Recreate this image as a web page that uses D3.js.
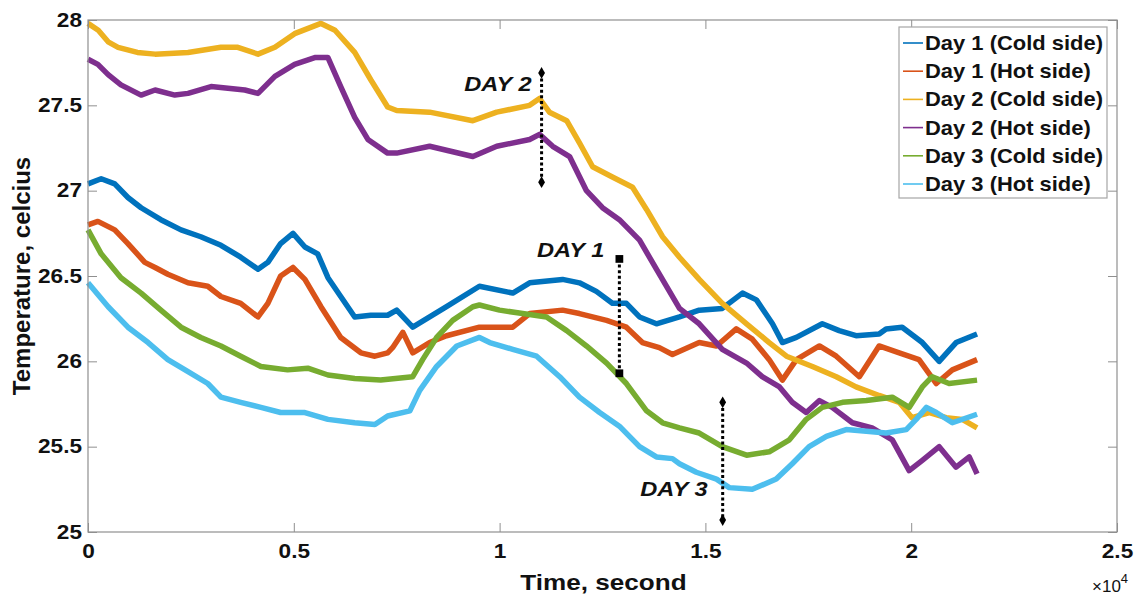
<!DOCTYPE html>
<html>
<head>
<meta charset="utf-8">
<script src="https://cdn.jsdelivr.net/npm/d3@7/dist/d3.min.js"></script>
<style>
  html, body { margin: 0; padding: 0; background: #fff; }
  svg { display: block; font-family: 'Liberation Sans', Arial, sans-serif; }
</style>
</head>
<body>
<div id="chart"></div>
<script>
// series: [time (s), temperature (C)]
const day1Cold = [[0,27.04],[320,27.07],[650,27.04],[970,26.96],[1290,26.90],[1770,26.83],[2260,26.77],[2740,26.73],[3230,26.68],[3710,26.61],[4130,26.54],[4370,26.58],[4680,26.69],[4980,26.75],[5270,26.67],[5580,26.63],[5830,26.49],[6140,26.38],[6480,26.26],[6870,26.27],[7280,26.27],[7500,26.30],[7890,26.20],[8300,26.26],[8710,26.32],[9510,26.44],[10320,26.40],[10730,26.46],[11530,26.48],[11940,26.46],[12350,26.41],[12740,26.34],[13080,26.34],[13400,26.26],[13810,26.22],[14370,26.26],[14850,26.30],[15410,26.31],[15900,26.40],[16240,26.36],[16630,26.22],[16870,26.11],[17210,26.14],[17840,26.22],[18250,26.18],[18660,26.15],[19220,26.16],[19390,26.19],[19780,26.20],[20270,26.11],[20680,26.00],[21090,26.11],[21600,26.16]]
const day1Hot = [[0,26.80],[240,26.82],[650,26.77],[970,26.69],[1380,26.58],[1630,26.55],[1940,26.51],[2430,26.46],[2910,26.44],[3230,26.38],[3710,26.34],[4130,26.26],[4370,26.34],[4680,26.50],[4980,26.55],[5270,26.48],[5660,26.32],[6140,26.14],[6630,26.05],[6970,26.03],[7280,26.05],[7400,26.08],[7650,26.17],[7890,26.05],[8300,26.11],[8710,26.15],[9510,26.20],[10320,26.20],[10730,26.28],[11530,26.30],[11940,26.28],[12600,26.24],[13080,26.20],[13470,26.11],[13880,26.08],[14200,26.04],[14850,26.11],[15270,26.09],[15750,26.19],[16140,26.13],[16550,26.01],[16870,25.89],[17210,26.01],[17770,26.09],[18180,26.03],[18740,25.91],[19220,26.09],[19710,26.05],[20190,26.01],[20610,25.87],[21000,25.95],[21600,26.01]]
const day2Cold = [[0,27.98],[250,27.94],[500,27.87],[730,27.84],[1200,27.81],[1630,27.80],[2430,27.81],[3230,27.84],[3640,27.84],[4130,27.80],[4540,27.84],[5020,27.92],[5660,27.98],[6000,27.94],[6480,27.81],[6870,27.65],[7280,27.49],[7500,27.47],[8300,27.46],[9350,27.41],[9930,27.46],[10730,27.50],[10970,27.54],[11210,27.46],[11630,27.41],[11940,27.28],[12260,27.14],[12740,27.08],[13230,27.02],[13570,26.89],[13960,26.73],[14370,26.61],[14850,26.48],[15410,26.34],[16000,26.22],[16550,26.11],[16970,26.03],[17600,25.97],[18180,25.91],[18660,25.85],[19220,25.80],[19710,25.76],[20020,25.67],[20440,25.70],[20850,25.67],[21240,25.66],[21600,25.61]]
const day2Hot = [[0,27.77],[240,27.74],[490,27.68],[800,27.62],[1290,27.56],[1630,27.59],[2110,27.56],[2430,27.57],[2990,27.61],[3400,27.60],[3810,27.59],[4130,27.57],[4540,27.67],[5020,27.74],[5510,27.78],[5830,27.78],[6140,27.61],[6480,27.43],[6800,27.30],[7280,27.22],[7500,27.22],[8300,27.26],[9350,27.20],[9930,27.26],[10730,27.30],[10970,27.33],[11290,27.26],[11700,27.20],[12110,27.00],[12500,26.90],[12910,26.83],[13400,26.71],[13810,26.54],[14370,26.31],[14850,26.22],[15410,26.07],[16000,25.99],[16380,25.91],[16800,25.85],[17110,25.76],[17450,25.70],[17770,25.77],[18080,25.73],[18570,25.64],[19050,25.61],[19540,25.54],[19950,25.36],[20270,25.42],[20680,25.50],[21090,25.38],[21410,25.44],[21600,25.34]]
const day3Cold = [[0,26.77],[320,26.63],[800,26.49],[1290,26.40],[1770,26.30],[2260,26.20],[2740,26.14],[3230,26.09],[3710,26.03],[4200,25.97],[4850,25.95],[5340,25.96],[5830,25.92],[6480,25.90],[7110,25.89],[7890,25.91],[8130,26.01],[8470,26.14],[8860,26.24],[9350,26.32],[9510,26.33],[10000,26.30],[10560,26.28],[11140,26.26],[11630,26.18],[12110,26.09],[12600,25.99],[13080,25.87],[13570,25.71],[13960,25.64],[14370,25.61],[14850,25.58],[15410,25.50],[16000,25.45],[16550,25.47],[17040,25.54],[17450,25.66],[17840,25.73],[18330,25.76],[18910,25.77],[19540,25.79],[19950,25.73],[20270,25.85],[20510,25.91],[20920,25.87],[21600,25.89]]
const day3Hot = [[0,26.46],[490,26.32],[970,26.20],[1460,26.11],[1940,26.01],[2430,25.94],[2910,25.87],[3230,25.79],[3710,25.76],[4200,25.73],[4680,25.70],[5270,25.70],[5830,25.66],[6480,25.64],[6970,25.63],[7280,25.68],[7820,25.71],[8060,25.83],[8470,25.97],[8960,26.09],[9510,26.14],[9760,26.11],[10320,26.07],[10900,26.03],[11460,25.91],[11940,25.79],[12430,25.70],[12910,25.62],[13400,25.50],[13810,25.44],[14200,25.43],[14370,25.40],[14780,25.35],[15270,25.31],[15580,25.26],[16140,25.25],[16720,25.31],[17110,25.40],[17520,25.50],[17940,25.56],[18420,25.60],[18910,25.59],[19390,25.58],[19880,25.60],[20120,25.66],[20370,25.73],[20610,25.70],[21000,25.64],[21600,25.69]]

const seriesNames = ['Day 1 (Cold side)', 'Day 1 (Hot side)', 'Day 2 (Cold side)', 'Day 2 (Hot side)', 'Day 3 (Cold side)', 'Day 3 (Hot side)']
const seriesData = [day1Cold, day1Hot, day2Cold, day2Hot, day3Cold, day3Hot]
const xTicks = [0, 5000, 10000, 15000, 20000, 25000]
const xTickLabels = ['0', '0.5', '1', '1.5', '2', '2.5']
const yTicks = [25, 25.5, 26, 26.5, 27, 27.5, 28]
const yTickLabels = ['25', '25.5', '26', '26.5', '27', '27.5', '28']

// day markers: label, time, low / high temperature of the dotted bar
const markerLabels = ['DAY 2', 'DAY 1', 'DAY 3']
const markerTimes = [11020, 12910, 15420]
const markerLow = [27.05, 25.93, 25.07]
const markerHigh = [27.69, 26.60, 25.76]

const colors = ['#0072BD', '#D95319', '#EDB120', '#7E2F8E', '#77AC30', '#4DBEEE']
const width = 1136
const height = 597
const margin = { top: 20, right: 19, bottom: 65, left: 88 }
const sx = 1.16 // the figure is stretched horizontally
const axisColor = '#8f8f8f'

const svg = d3.select('#chart')
  .append('svg')
  .attr('width', width)
  .attr('height', height)

const x = d3.scaleLinear().domain([0, 25000]).range([margin.left, width - margin.right])
const y = d3.scaleLinear().domain([25, 28]).range([height - margin.bottom, margin.top])

// lines
const line = d3.line().x(d => x(d[0])).y(d => y(d[1]))
svg.append('g')
  .selectAll('path')
  .data(seriesData)
  .join('path')
  .attr('d', line)
  .attr('fill', 'none')
  .attr('stroke', (d, i) => colors[i])
  .attr('stroke-width', 5.5)
  .attr('stroke-linejoin', 'round')

// axes
const gx = svg.append('g')
  .attr('transform', `translate(0, ${y(25)})`)
  .call(d3.axisBottom(x).tickValues(xTicks).tickFormat((d, i) => xTickLabels[i]).tickSize(-9).tickPadding(12))
const gy = svg.append('g')
  .attr('transform', `translate(${x(0)}, 0)`)
  .call(d3.axisLeft(y).tickValues(yTicks).tickFormat((d, i) => yTickLabels[i]).tickSize(-9))
svg.append('g')
  .attr('transform', `translate(0, ${y(28)})`)
  .call(d3.axisTop(x).tickValues(xTicks).tickFormat('').tickSize(-9))
svg.append('g')
  .attr('transform', `translate(${x(25000)}, 0)`)
  .call(d3.axisRight(y).tickValues(yTicks).tickFormat('').tickSize(-9))

svg.selectAll('.domain').remove()
svg.selectAll('.tick line').attr('stroke', axisColor)
svg.append('rect')
  .attr('x', x(0))
  .attr('y', y(28))
  .attr('width', x(25000) - x(0))
  .attr('height', y(25) - y(28))
  .attr('fill', 'none')
  .attr('stroke', axisColor)
  .attr('stroke-width', 1.2)

gx.selectAll('text')
  .attr('font-size', 19.5)
  .attr('font-weight', 'bold')
  .attr('font-family', 'Liberation Sans, Arial, sans-serif')
  .attr('fill', '#111')
  .attr('transform', `scale(${sx},1)`)
gy.selectAll('text')
  .attr('font-size', 19.5)
  .attr('font-weight', 'bold')
  .attr('font-family', 'Liberation Sans, Arial, sans-serif')
  .attr('fill', '#111')
  .attr('x', -6 / sx)
  .attr('transform', `scale(${sx},1)`)

// axis titles
svg.append('text')
  .attr('transform', `translate(${(x(0) + x(25000)) / 2 + 1}, 590) scale(${sx},1)`)
  .attr('text-anchor', 'middle')
  .attr('font-size', 22.5)
  .attr('font-weight', 'bold')
  .attr('fill', '#111')
  .text('Time, second')
svg.append('text')
  .attr('transform', `translate(30, ${(y(25) + y(28)) / 2}) rotate(-90)`)
  .attr('text-anchor', 'middle')
  .attr('font-size', 24)
  .attr('font-weight', 'bold')
  .attr('fill', '#111')
  .text('Temperature, celcius')

// x10^4 exponent
const expo = svg.append('text')
  .attr('transform', 'translate(1092, 592)')
  .attr('font-size', 17)
  .attr('fill', '#111')
expo.append('tspan').text('\u00d710')
expo.append('tspan').attr('dy', -9).attr('font-size', 13).text('4')

// day markers
const labelOffset = [{ dx: -10, dy: 18, from: 'hi' }, { dx: -15, dy: -2, from: 'hi' }, { dx: -15, dy: -24, from: 'lo' }]
const markerShape = [d3.symbolDiamond, d3.symbolSquare, d3.symbolDiamond]
const markerSize = [40, 60, 40]
const markG = svg.append('g')
markerLabels.forEach((label, i) => {
  const mx = x(markerTimes[i])
  const yHi = y(markerHigh[i])
  const yLo = y(markerLow[i])
  markG.append('line')
    .attr('x1', mx).attr('x2', mx)
    .attr('y1', yHi).attr('y2', yLo)
    .attr('stroke', '#000')
    .attr('stroke-width', 3)
    .attr('stroke-dasharray', '3,2.6')
  ;[yHi, yLo].forEach(py => {
    markG.append('path')
      .attr('d', d3.symbol(markerShape[i], markerSize[i])())
      .attr('transform', `translate(${mx}, ${py})`)
      .attr('fill', '#000')
  })
  const o = labelOffset[i]
  const by = (o.from === 'hi' ? yHi : yLo) + o.dy
  markG.append('text')
    .attr('transform', `translate(${mx + o.dx}, ${by}) scale(${sx * 0.97},1)`)
    .attr('text-anchor', 'end')
    .attr('font-size', 21)
    .attr('font-weight', 'bold')
    .attr('font-style', 'italic')
    .attr('fill', '#111')
    .text(label)
})

// legend
const legend = svg.append('g').attr('transform', 'translate(899, 27)')
legend.append('rect')
  .attr('width', 208)
  .attr('height', 171)
  .attr('fill', '#fff')
  .attr('stroke', '#a6a6a6')
  .attr('stroke-width', 1.2)
const items = legend.selectAll('.item')
  .data(seriesNames)
  .join('g')
  .attr('class', 'item')
  .attr('transform', (d, i) => `translate(0, ${16 + i * 28.2})`)
items.append('line')
  .attr('x1', 4).attr('x2', 24)
  .attr('stroke', (d, i) => colors[i])
  .attr('stroke-width', 1.6)
items.append('text')
  .attr('transform', `translate(26, 7) scale(${sx * 0.97},1)`)
  .attr('font-size', 19.5)
  .attr('font-weight', 'bold')
  .attr('fill', '#111')
  .text(d => d)
</script>
</body>
</html>
